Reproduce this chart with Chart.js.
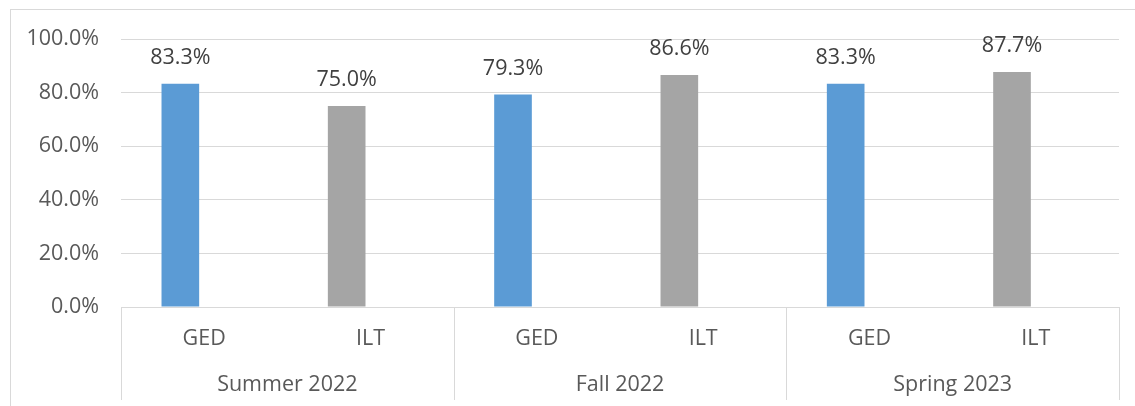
<!DOCTYPE html>
<html>
<head>
<meta charset="utf-8">
<script src="https://cdn.jsdelivr.net/npm/chart.js@4/dist/chart.umd.min.js"></script>
<style>
  html, body { margin: 0; padding: 0; background: #fff; }
  #wrap { width: 1135px; height: 406px; }
</style>
</head>
<body>
<div id="wrap"><canvas id="rateChart" width="1135" height="406"></canvas></div>
<script>
// 차트 데이터
const terms = ['Summer 2022', 'Fall 2022', 'Spring 2023'];
const programs = ['GED', 'ILT'];
const categories = ['GED', 'ILT', 'GED', 'ILT', 'GED', 'ILT'];
const rates = [83.3, 75.0, 79.3, 86.6, 83.3, 87.7];
const yTicks = [0, 20, 40, 60, 80, 100];

const FONT = "'Open Sans', 'Liberation Sans', sans-serif";
const FSIZE = 21.5;
const barColors = categories.map(c => c === 'GED' ? '#5B9BD5' : '#A5A5A5');

// 바깥 테두리 + 학기 구분선/라벨
const framePlugin = {
    id: 'frame',
    beforeDraw(chart) {
        const c = chart.ctx;
        c.save();
        c.fillStyle = '#fff';
        c.fillRect(0, 0, chart.width, chart.height);
        c.strokeStyle = '#D9D9D9';
        c.lineWidth = 1;
        c.strokeRect(10.5, 9.5, chart.width + 50, chart.height + 50);
        c.restore();
    },
    afterDraw(chart) {
        const c = chart.ctx;
        const x = chart.scales.x;
        const area = chart.chartArea;
        c.save();
        c.strokeStyle = '#D9D9D9';
        c.lineWidth = 1;
        // 구분선 위치
        const edges = [area.left];
        for (let i = 1; i <= terms.length; i++) {
            if (i < terms.length) {
                const a = x.getPixelForValue(i * programs.length - 1);
                const b = x.getPixelForValue(i * programs.length);
                edges.push((a + b) / 2);
            } else {
                edges.push(area.right);
            }
        }
        edges.forEach(e => {
            const px = Math.round(e) + 0.5;
            c.beginPath();
            c.moveTo(px, area.bottom);
            c.lineTo(px, 400);
            c.stroke();
        });
        c.fillStyle = '#595959';
        c.font = FSIZE + 'px ' + FONT;
        c.textAlign = 'center';
        c.textBaseline = 'middle';
        terms.forEach((t, i) => {
            c.fillText(t, (edges[i] + edges[i + 1]) / 2, 385);
        });
        c.restore();
    }
};

// 막대 위 값 표시
const valueLabels = {
    id: 'valueLabels',
    afterDatasetsDraw(chart) {
        const c = chart.ctx;
        const meta = chart.getDatasetMeta(0);
        c.save();
        c.fillStyle = '#404040';
        c.font = FSIZE + 'px ' + FONT;
        c.textAlign = 'center';
        c.textBaseline = 'middle';
        meta.data.forEach((bar, i) => {
            c.fillText(rates[i].toFixed(1) + '%', bar.x, bar.y - 26);
        });
        c.restore();
    }
};

const ctx = document.getElementById('rateChart').getContext('2d');
const rateChart = new Chart(ctx, {
    type: 'bar',
    data: {
        labels: categories,
        datasets: [
            {
                label: 'Rate',
                data: rates,
                backgroundColor: barColors,
                borderWidth: 0,
                categoryPercentage: 0.573,
                barPercentage: 0.79
            },
            {
                label: '',
                data: categories.map(() => null), // 빈 계열 (엑셀 원본처럼 자리만 차지)
                categoryPercentage: 0.573,
                barPercentage: 0.79
            }
        ]
    },
    options: {
        responsive: false,
        animation: false,
        layout: {
            padding: { left: 0, top: 39, right: 16, bottom: 0 }
        },
        plugins: {
            legend: { display: false },
            tooltip: { enabled: false }
        },
        scales: {
            x: {
                grid: { display: false, drawTicks: false },
                border: { display: true, color: '#D9D9D9' },
                ticks: {
                    color: '#595959',
                    font: { family: FONT, size: FSIZE },
                    padding: 19,
                    maxRotation: 0,
                    autoSkip: false
                },
                afterFit(scale) { scale.height = 99; }
            },
            y: {
                min: 0,
                max: 100,
                afterBuildTicks(scale) { scale.ticks = yTicks.map(v => ({ value: v })); },
                grid: { color: '#D9D9D9', drawTicks: false },
                border: { display: false },
                ticks: {
                    color: '#595959',
                    font: { family: FONT, size: FSIZE },
                    padding: 22,
                    callback: v => v.toFixed(1) + '%'
                },
                afterFit(scale) { scale.width = 121; }
            }
        }
    },
    plugins: [framePlugin, valueLabels]
});
</script>
</body>
</html>
